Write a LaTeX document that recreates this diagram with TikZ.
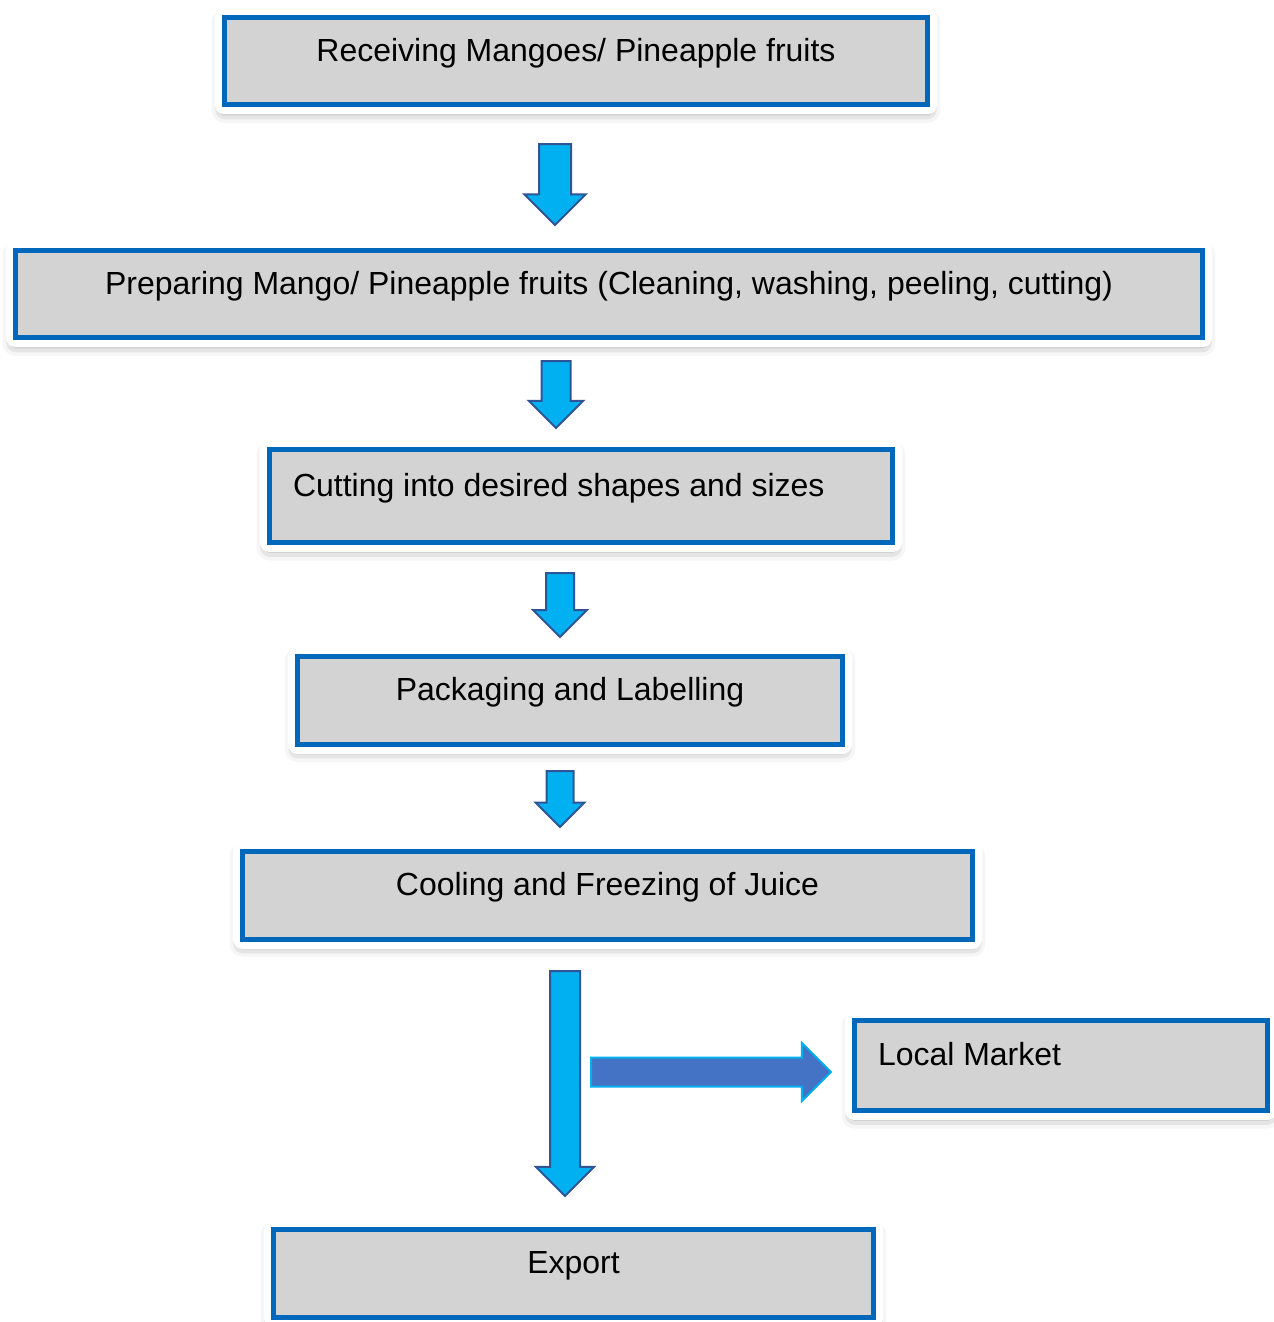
\documentclass[tikz,border=0pt]{standalone}
\usepackage{fontspec}
\setmainfont{Liberation Sans}
\usepackage{tikz}
\usetikzlibrary{shapes.arrows,shadows.blur}
\definecolor{boxblue}{HTML}{0068BA}
\definecolor{boxgray}{HTML}{D3D3D3}
\definecolor{arrowcyan}{HTML}{00B0F0}
\definecolor{arrowedge}{HTML}{2F5597}
\definecolor{sideblue}{HTML}{4472C4}

\begin{document}
\begin{tikzpicture}[x=0.02cm,y=-0.02cm]
          \tikzstyle{stage} = [rectangle, draw=boxblue, line width=0.1cm, fill=boxgray, blur shadow={shadow xshift=0pt, shadow yshift=-0.1cm, shadow blur radius=0.26cm, shadow opacity=55}, preaction={draw=white, line width=0.38cm, line join=round}, font=\fontsize{18.2}{22}\selectfont, inner xsep=0pt, inner ysep=0pt, text height=0.88cm, text depth=0.88cm]
          \tikzstyle{flow} = [single arrow, draw=arrowedge, line width=0.04cm, fill=arrowcyan, shape border rotate=270, single arrow head indent=0pt, anchor=tail]
          \tikzstyle{sideflow} = [single arrow, draw=arrowcyan, line width=0.04cm, fill=sideblue, single arrow head indent=0pt, anchor=tail]
        \useasboundingbox (0,0) rectangle (1274,1322);
        \node[stage, minimum width=14.06cm] (1) at (576,61) {Receiving Mangoes/ Pineapple fruits};
        \node[stage, minimum width=23.74cm] (2) at (609,294) {Preparing Mango/ Pineapple fruits (Cleaning, washing, peeling, cutting)};
        \node[stage, text width=11.52cm, inner xsep=0.47cm, align=flush left, text height=0.93cm, text depth=0.93cm] (3) at (581,496) {Cutting into desired shapes and sizes};
        \node[stage, minimum width=10.9cm] (4) at (570,700) {Packaging and Labelling};
        \node[stage, minimum width=14.6cm] (5) at (607.5,895) {Cooling and Freezing of Juice};
        \node[stage, text width=7.32cm, inner xsep=0.47cm, align=flush left, text height=0.9cm, text depth=0.9cm] (6) at (1061,1065.5) {Local Market};
        \node[stage, minimum width=12cm] (7) at (573.5,1273.5) {Export};
        \begin{scope}
          \node[flow, minimum height=1.62cm, inner sep=0.3cm, single arrow head extend=0.29cm] (a1) at (555,143) {};
          \node[flow, minimum height=1.34cm, inner sep=0.27cm, single arrow head extend=0.25cm] (a2) at (556,360) {};
          \node[flow, minimum height=1.28cm, inner sep=0.26cm, single arrow head extend=0.26cm] (a3) at (560,572) {};
          \node[flow, minimum height=1.12cm, inner sep=0.25cm, single arrow head extend=0.22cm] (a4) at (560,770) {};
          \node[flow, minimum height=4.5cm, inner sep=0.28cm, single arrow head extend=0.28cm] (a5) at (565,970) {};
          \node[sideflow, minimum height=4.8cm, inner sep=0.27cm, single arrow head extend=0.29cm] (a6) at (590,1072) {};
        \end{scope}
      \end{tikzpicture}
\end{document}
